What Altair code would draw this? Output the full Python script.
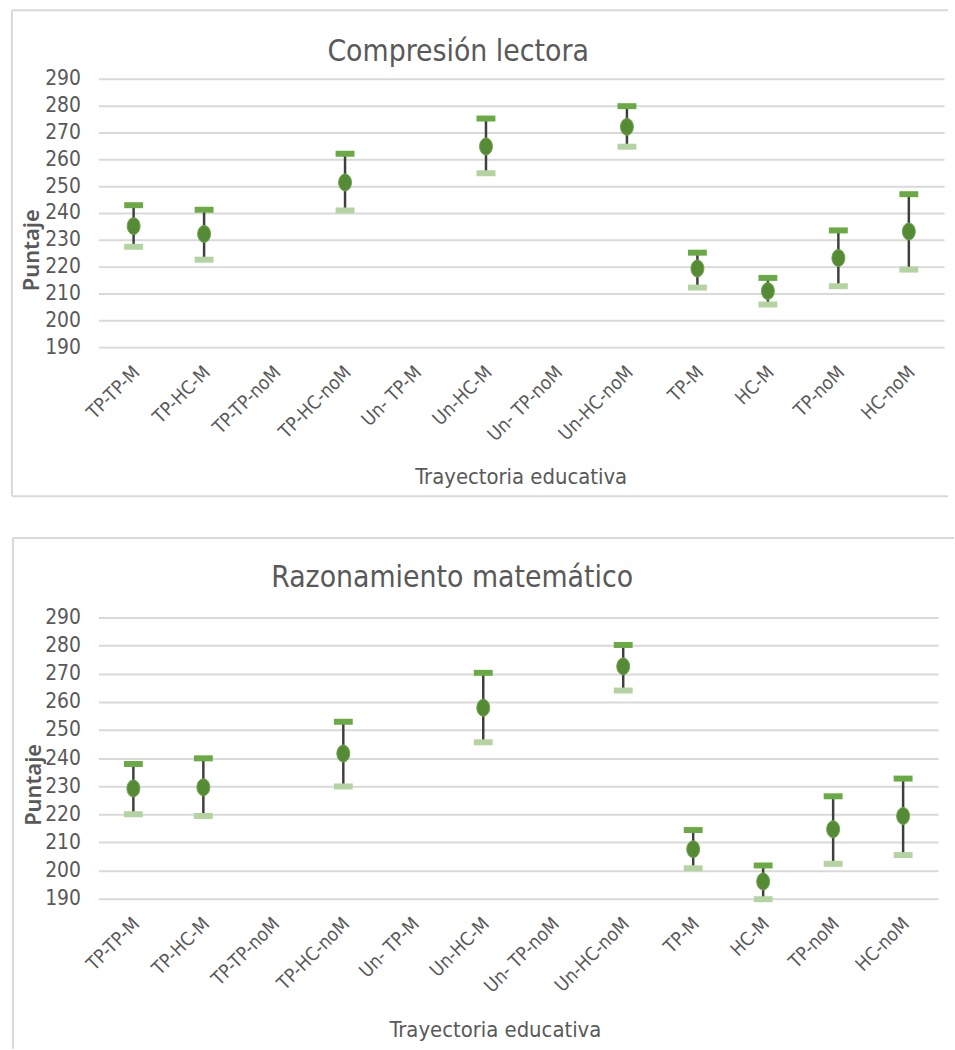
import altair as alt
import pandas as pd

# Trayectorias educativas (eje X)
categorias = ["TP-TP-M", "TP-HC-M", "TP-TP-noM", "TP-HC-noM", "Un- TP-M", "Un-HC-M",
              "Un- TP-noM", "Un-HC-noM", "TP-M", "HC-M", "TP-noM", "HC-noM"]

# Compresión lectora: puntaje medio y límites del intervalo
media_cl = [235.1, 232.2, None, 251.4, None, 264.8, None, 272.1, 219.3, 210.9, 223.2, 233.1]
sup_cl = [242.9, 241.2, None, 262.1, None, 275.2, None, 279.8, 225.2, 215.8, 233.5, 247.0]
inf_cl = [227.4, 222.6, None, 240.9, None, 254.8, None, 264.7, 212.2, 205.9, 212.7, 218.9]

# Razonamiento matemático: puntaje medio y límites del intervalo
media_rm = [229.2, 229.6, None, 241.6, None, 257.9, None, 272.6, 207.6, 196.1, 214.7, 219.4]
sup_rm = [237.9, 239.9, None, 252.9, None, 270.3, None, 280.2, 214.4, 201.8, 226.4, 232.7]
inf_rm = [220.0, 219.4, None, 229.9, None, 245.6, None, 264.0, 200.8, 189.8, 202.4, 205.5]

ticks_y = list(range(190, 300, 10))

FUENTE = "DejaVu Sans Condensed, Liberation Sans Narrow, Liberation Sans, sans-serif"
GRIS = "#595959"
BORDE = "#d9d9d9"
ELIPSE = "M -0.76 0 A 0.76 1 0 1 0 0.76 0 A 0.76 1 0 1 0 -0.76 0 Z"


def panel(titulo, media, sup, inf, ancho, alto, marco, pos_titulo, pos_ytit, pos_xtit):
    df = pd.DataFrame({"cat": categorias, "media": media, "sup": sup, "inf": inf}).dropna()

    eje_x = alt.X(
        "cat:N",
        sort=categorias,
        scale=alt.Scale(type="band", domain=categorias, paddingInner=0, paddingOuter=0),
        axis=alt.Axis(
            title="Trayectoria educativa", labelAngle=-45, labelAlign="right",
            labelBaseline="middle", labelPadding=22, labelOffset=3,
            labelFont=FUENTE, labelFontSize=19,
            labelColor=GRIS, domain=False, ticks=False, grid=False,
            titleFont=FUENTE, titleFontSize=22, titleFontWeight="normal",
            titleColor=GRIS, titleX=pos_xtit[0], titleY=pos_xtit[1],
            titleBaseline="middle", titleAlign="center",
        ),
    )
    eje_y = alt.Axis(
        title="Puntaje", values=ticks_y, domain=False, ticks=False,
        labelFont=FUENTE, labelFontSize=21, labelColor=GRIS, labelPadding=18,
        grid=True, gridColor=BORDE, gridWidth=2,
        titleFont="Noto Sans", titleFontSize=22, titleFontWeight=600,
        titleColor=GRIS, titleX=pos_ytit[0], titleY=pos_ytit[1],
        titleBaseline="middle", titleAlign="center", titleAngle=270,
    )
    escala_y = alt.Scale(domain=[190, 290], nice=False, zero=False)

    base = alt.Chart(df)
    barra = base.mark_rule(color="#3f3f3f", strokeWidth=2.5, clip=False).encode(
        x=eje_x, y=alt.Y("inf:Q", scale=escala_y, axis=eje_y), y2="sup:Q")
    tope = base.mark_tick(color="#6aaa45", thickness=6, size=19, opacity=1, clip=False).encode(
        x=eje_x, y=alt.Y("sup:Q", scale=escala_y, axis=eje_y))
    piso = base.mark_tick(color="#b3d3a1", thickness=6, size=19, opacity=1, clip=False).encode(
        x=eje_x, y=alt.Y("inf:Q", scale=escala_y, axis=eje_y))
    punto = base.mark_point(shape=ELIPSE, size=290, filled=True, color="#568b35",
                            stroke="#6fa34f", strokeWidth=1, opacity=1, clip=False).encode(
        x=eje_x, y=alt.Y("media:Q", scale=escala_y, axis=eje_y))

    uno = pd.DataFrame({"t": [titulo]})
    texto = alt.Chart(uno).mark_text(
        font=FUENTE, fontSize=30, color=GRIS, align="center", baseline="middle"
    ).encode(text="t:N", x=alt.value(pos_titulo[0]), y=alt.value(pos_titulo[1]))

    capas = [barra, tope, piso, punto, texto]
    for (x1, x2, y1, y2, op) in marco:
        capas.append(
            alt.Chart(uno).mark_rule(color=BORDE, strokeWidth=2, opacity=op).encode(
                x=alt.value(x1), x2=alt.value(x2), y=alt.value(y1), y2=alt.value(y2))
        )
    return alt.layer(*capas).properties(width=ancho, height=alto)


arriba = panel(
    "Compresión lectora", media_cl, sup_cl, inf_cl, 851, 270,
    marco=[(-87, 855, -69, -69, 1), (-87, -87, -69, 420, 1), (-87, 855, 420, 420, 1),
           (-92, -92, -69, 0, 0)],
    pos_titulo=(362, -27), pos_ytit=(-67, 172), pos_xtit=(425, 130),
)
abajo = panel(
    "Razonamiento matemático", media_rm, sup_rm, inf_rm, 845, 283,
    marco=[(-86, 861, -80, -80, 1), (-86, -86, -80, 434, 1)],
    pos_titulo=(356, -40), pos_ytit=(-65, 168), pos_xtit=(399, 132),
)

chart = alt.vconcat(arriba, abajo, spacing=40).properties(
    padding={"left": 7, "top": 6, "right": 0, "bottom": 0}
).configure_view(stroke=None)

chart.save("out.html", embed_options={"renderer": "svg", "actions": False})
